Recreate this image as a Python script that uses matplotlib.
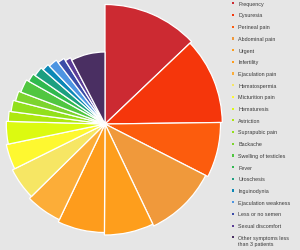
import numpy as np
import matplotlib
matplotlib.use("Agg")
import matplotlib.pyplot as plt
from matplotlib.patches import Rectangle

categories = ["Frequency", "Dysuresia", "Perineal pain", "Abdominal pain", "Urgent",
              "Infertility", "Ejaculation pain", "Hematospermia", "Micturition pain",
              "Hematuresis", "Astriction", "Suprapubic pain", "Backache",
              "Swelling of testicles", "Fever", "Uroschesis", "Inguinodynia",
              "Ejaculation weakness", "Less or no semen", "Sexual discomfort",
              "Other symptoms less\nthan 3 patients"]
# angular share (estimated)
values = [46.4, 42.8, 27.8, 37.4, 25.8, 25.2, 19.9, 18.2, 14.6, 13.3, 6.0, 6.9,
          6.3, 8.5, 5.5, 6.5, 4.9, 6.5, 5.3, 4.5, 27.5]
# sector radius (estimated, relative)
radii = [119.5, 117.3, 115.5, 113.0, 111.0, 108.5, 106.0, 103.3, 100.8, 98.7,
         96.7, 94.7, 92.3, 90.0, 87.5, 85.0, 82.3, 80.3, 77.3, 74.7, 72.0]
colors = ["#cc2a32", "#f5360b", "#fc5c0d", "#f0993b", "#fe9e1c", "#fe9c1c",
          "#fcad38", "#f6e664", "#fef830", "#dcfa10", "#aee80e", "#92e01c",
          "#7cd42e", "#50c640", "#30b94e", "#1c9f80", "#0c88b6", "#4d95e2",
          "#3b4ca8", "#5a3c96", "#4a2f62"]

W, H = 300, 251
fig = plt.figure(figsize=(W / 100, H / 100), dpi=100)
fig.patch.set_facecolor("#e6e6e6")

cx, cy, R = 105.0, 125.0, 122.0
ax = fig.add_axes([(cx - R) / W, 1 - (cy + R) / H, 2 * R / W, 2 * R / H],
                  projection="polar")
ax.set_facecolor("none")
ax.set_theta_zero_location("N")
ax.set_theta_direction(-1)

vals = np.array(values)
widths = vals / vals.sum() * 2 * np.pi
starts = np.concatenate([[0], np.cumsum(widths)[:-1]])
ax.bar(starts, radii, width=widths, bottom=0, align="edge", color=colors,
       edgecolor="white", linewidth=0.9)
ax.set_ylim(0, R)
ax.set_axis_off()

# legend
y0, dy = 4.3, 11.7
for i, (lab, col) in enumerate(zip(categories, colors)):
    y = y0 + i * dy
    fig.add_artist(Rectangle((232.3 / W, 1 - (y + 1.1) / H), 2.2 / W, 2.2 / H,
                             transform=fig.transFigure, facecolor=col,
                             edgecolor="none"))
    ty = y + 3.4 if "\n" in lab else y
    fig.text(238.2 / W, 1 - ty / H, lab, fontsize=3.85, family="Liberation Sans",
             color="#3a3a3a", va="center", ha="left", linespacing=1.25)

fig.savefig("out.png", dpi=100, facecolor=fig.get_facecolor())
